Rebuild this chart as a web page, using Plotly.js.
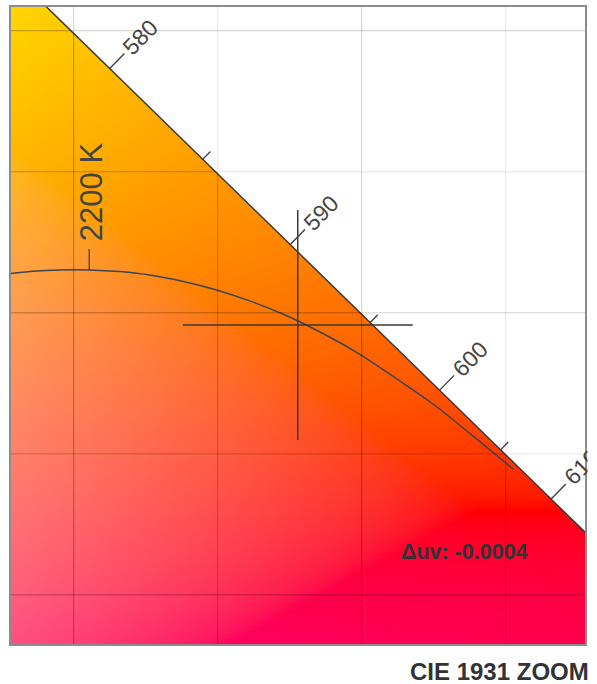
<!DOCTYPE html>
<html><head><meta charset="utf-8">
<script src="https://cdn.plot.ly/plotly-3.0.1.min.js"></script>
<style>html,body{margin:0;padding:0;background:#fff}#chart{width:597px;height:684px}</style>
</head><body><div id="chart"></div>
<script>
// CIE 1931 2-degree spectral locus (wavelength nm, x, y)
const locusNm = [570, 575, 580, 585, 590, 595, 600, 605, 610, 615, 620];
const locusX = [0.4441, 0.4788, 0.5125, 0.5448, 0.5752, 0.6029, 0.6270, 0.6482, 0.6658, 0.6801, 0.6915];
const locusY = [0.5547, 0.5202, 0.4866, 0.4544, 0.4242, 0.3965, 0.3725, 0.3514, 0.3340, 0.3197, 0.3083];
const labelNm = [580, 590, 600, 610];
const minorNm = [585, 595, 605];
// Planckian locus (K, x, y)
const planckT = [1000, 1100, 1200, 1300, 1400, 1500, 1600, 1700, 1800, 1900, 2000, 2100, 2200, 2300, 2400, 2500, 2600];
const planckX = [0.6528, 0.6388, 0.6251, 0.6117, 0.5985, 0.5857, 0.5732, 0.5609, 0.5496, 0.5381, 0.5269, 0.5160, 0.5054, 0.4953, 0.4857, 0.4765, 0.4677];
const planckY = [0.3444, 0.3562, 0.3674, 0.3769, 0.3858, 0.3931, 0.3993, 0.4043, 0.4081, 0.4111, 0.4133, 0.4146, 0.4152, 0.4152, 0.4147, 0.4137, 0.4124];
const cctLabel = '2200 K';
const cctIndex = 12;
// measured point
const pointX = [0.5778];
const pointY = [0.3957];
const duvText = 'Δuv: -0.0004';
const titleText = 'CIE 1931 ZOOM';
// grid values
const gridMajor = [0.3, 0.4, 0.5, 0.6];
const gridMinor = [0.35, 0.45, 0.55, 0.65];

const FONT = 'Liberation Sans, Arial, Helvetica, sans-serif';
const xRange = [0.47823, 0.67754];
const yRange = [0.2826, 0.5084];
const W = 574, H = 637;
const kx = W / (xRange[1] - xRange[0]), ky = H / (yRange[1] - yRange[0]);
const toPx = (x, y) => [(x - xRange[0]) * kx, (yRange[1] - y) * ky];
const toData = (px, py) => [xRange[0] + px / kx, yRange[1] - py / ky];

// chromaticity background (xy -> sRGB, out-of-gamut desaturated toward white, max-normalised)
function xyToRgb(x, y) {
  const X = x / y, Y = 1, Z = (1 - x - y) / y;
  let r = 3.2406 * X - 1.5372 * Y - 0.4986 * Z;
  let g = -0.9689 * X + 1.8758 * Y + 0.0415 * Z;
  let b = 0.0557 * X - 0.2040 * Y + 1.0570 * Z;
  const mn = Math.min(r, g, b);
  if (mn < 0) { r -= mn; g -= mn; b -= mn; }
  const m = Math.max(r, g, b) || 1;
  const gam = v => v <= 0.0031308 ? 12.92 * v : 1.055 * Math.pow(v, 1 / 2.4) - 0.055;
  return [Math.round(255 * gam(r / m)), Math.round(255 * gam(g / m)), Math.round(255 * gam(b / m))];
}
const NX = 240, NY = 266;
const dx = (xRange[1] - xRange[0]) / NX, dy = (yRange[1] - yRange[0]) / NY;
const img = [];
for (let j = 0; j < NY; j++) {
  const row = [];
  const yy = yRange[0] + (j + 0.5) * dy;
  for (let i = 0; i < NX; i++) row.push(xyToRgb(xRange[0] + (i + 0.5) * dx, yy));
  img.push(row);
}

const traces = [];
traces.push({type: 'image', z: img, x0: xRange[0] + dx / 2, dx: dx, y0: yRange[0] + dy / 2, dy: dy,
  zsmooth: 'fast', hoverinfo: 'skip'});

// darker grid over the colour field
const gX = [], gY = [];
[...gridMajor, ...gridMinor].forEach(v => {
  gX.push(v, v, null); gY.push(0.2, 0.6, null);
  gX.push(0.4, 0.8, null); gY.push(v, v, null);
});
traces.push({type: 'scatter', mode: 'lines', x: gX, y: gY, line: {color: 'rgba(0,0,0,0.13)', width: 1}, hoverinfo: 'skip'});

// white area outside the spectral locus
traces.push({type: 'scatter', mode: 'lines', fill: 'toself', fillcolor: '#ffffff',
  x: [...locusX, 0.85, 0.85, locusX[0]], y: [...locusY, locusY[locusY.length - 1], 0.65, 0.65],
  line: {width: 0, color: 'rgba(0,0,0,0)'}, hoverinfo: 'skip'});

// spectral locus line
traces.push({type: 'scatter', mode: 'lines', x: locusX, y: locusY, line: {color: '#3a3a3a', width: 1.5}, hoverinfo: 'skip'});

// wavelength ticks + labels
const annotations = [];
const tX = [], tY = [];
for (let i = 1; i < locusNm.length - 1; i++) {
  const nm = locusNm[i];
  const major = labelNm.includes(nm), minor = minorNm.includes(nm);
  if (!major && !minor) continue;
  const p = toPx(locusX[i], locusY[i]), a = toPx(locusX[i - 1], locusY[i - 1]), b = toPx(locusX[i + 1], locusY[i + 1]);
  let tx = b[0] - a[0], ty = b[1] - a[1];
  const L = Math.hypot(tx, ty); tx /= L; ty /= L;
  const nx = ty, ny = -tx;
  const len = major ? 21 : 11;
  const e = toData(p[0] + nx * len, p[1] + ny * len);
  tX.push(locusX[i], e[0], null); tY.push(locusY[i], e[1], null);
  if (major) {
    const off = len + 23;
    annotations.push({x: locusX[i], y: locusY[i], xref: 'x', yref: 'y', text: String(nm), showarrow: false,
      textangle: Math.atan2(ny, nx) * 180 / Math.PI, xanchor: 'center', yanchor: 'middle',
      xshift: nx * off, yshift: -ny * off, font: {size: 23, color: '#444', family: FONT}});
  }
}
traces.push({type: 'scatter', mode: 'lines', x: tX, y: tY, line: {color: '#3a3a3a', width: 1.3}, hoverinfo: 'skip'});

// Planckian locus
traces.push({type: 'scatter', mode: 'lines', x: planckX, y: planckY, line: {color: '#3b4450', width: 1.5, shape: 'spline'}, hoverinfo: 'skip'});
const cp = toPx(planckX[cctIndex], planckY[cctIndex]);
const ct = toData(cp[0], cp[1] - 21);
traces.push({type: 'scatter', mode: 'lines', x: [planckX[cctIndex], ct[0]], y: [planckY[cctIndex], ct[1]], line: {color: '#3b4450', width: 1.3}, hoverinfo: 'skip'});
annotations.push({x: planckX[cctIndex], y: planckY[cctIndex], xref: 'x', yref: 'y', text: cctLabel, showarrow: false,
  textangle: -90, xanchor: 'center', yanchor: 'middle', xshift: 3, yshift: 78, font: {size: 31, color: '#444', family: FONT}});

// crosshair
const pp = toPx(pointX[0], pointY[0]);
const hA = toData(pp[0] - 115, pp[1]), hB = toData(pp[0] + 115, pp[1]);
const vA = toData(pp[0], pp[1] - 115), vB = toData(pp[0], pp[1] + 115);
traces.push({type: 'scatter', mode: 'lines', x: [hA[0], hB[0], null, vA[0], vB[0]], y: [hA[1], hB[1], null, vA[1], vB[1]],
  line: {color: '#3a3a3a', width: 1.5}, hoverinfo: 'skip'});

// light grid lines on top
const shapes = [];
gridMajor.forEach(v => {
  shapes.push({type: 'line', xref: 'x', yref: 'paper', x0: v, x1: v, y0: 0, y1: 1, layer: 'above', line: {color: 'rgba(0,0,0,0.19)', width: 1}});
  shapes.push({type: 'line', xref: 'paper', yref: 'y', x0: 0, x1: 1, y0: v, y1: v, layer: 'above', line: {color: 'rgba(0,0,0,0.19)', width: 1}});
});
gridMinor.forEach(v => {
  shapes.push({type: 'line', xref: 'x', yref: 'paper', x0: v, x1: v, y0: 0, y1: 1, layer: 'above', line: {color: 'rgba(0,0,0,0.1)', width: 1}});
  shapes.push({type: 'line', xref: 'paper', yref: 'y', x0: 0, x1: 1, y0: v, y1: v, layer: 'above', line: {color: 'rgba(0,0,0,0.1)', width: 1}});
});

// cover label overflow past the right frame
annotations.push({xref: 'paper', yref: 'paper', x: 1, xshift: 2, xanchor: 'left', y: (644 - 470) / H, yanchor: 'middle',
  text: ' ', showarrow: false, width: 14, height: 80, bgcolor: '#ffffff', borderpad: 0});

annotations.push({xref: 'paper', yref: 'paper', x: (464.7 - 11) / W, y: (644 - 552) / H, xanchor: 'center', yanchor: 'middle',
  text: '<b>' + duvText + '</b>', showarrow: false, font: {size: 21.5, color: '#333', family: FONT}});
annotations.push({xref: 'paper', yref: 'paper', x: (588 - 11) / W, xshift: 3, y: (644 - 671.5) / H, xanchor: 'right', yanchor: 'middle',
  text: '<b>' + titleText + '</b>', showarrow: false, font: {size: 24, color: '#333', family: FONT}});

const axBase = {showgrid: false, zeroline: false, showticklabels: false, ticks: '', showline: true, mirror: true,
  linecolor: '#8c8c8c', linewidth: 2, fixedrange: true};
const layout = {
  width: 597, height: 684, margin: {l: 11, r: 12, t: 7, b: 40},
  paper_bgcolor: '#ffffff', plot_bgcolor: '#ffffff', showlegend: false,
  xaxis: Object.assign({}, axBase, {range: xRange, autorange: false}),
  yaxis: Object.assign({}, axBase, {range: yRange, autorange: false, scaleanchor: false}),
  shapes: shapes, annotations: annotations
};
Plotly.newPlot('chart', traces, layout, {staticPlot: true, displayModeBar: false});
</script></body></html>
